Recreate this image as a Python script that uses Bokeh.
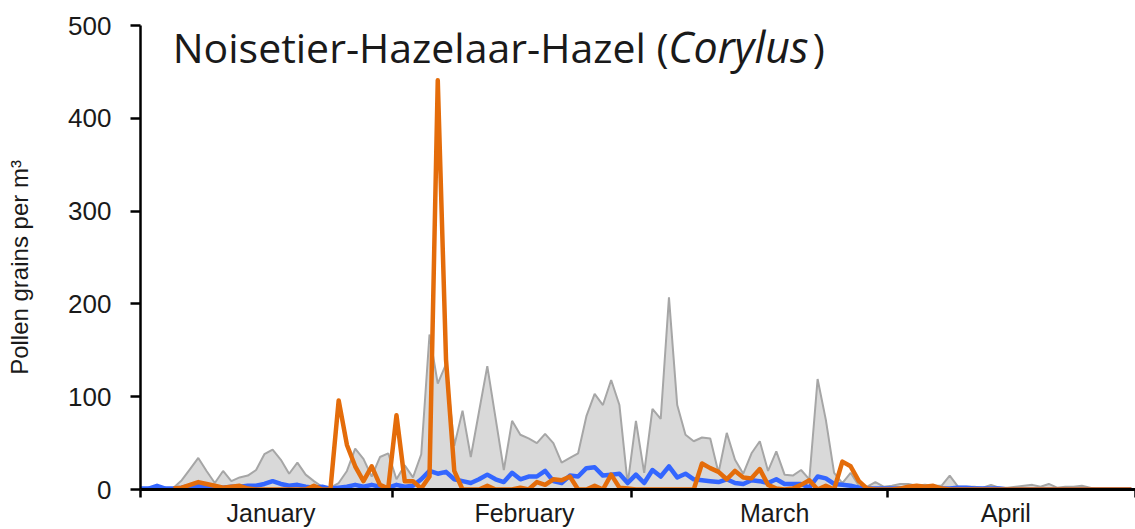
from bokeh.plotting import figure
from bokeh.models import FixedTicker, Label, Range1d
from bokeh.embed import file_html
from bokeh.resources import INLINE

NaN = float("nan")

# Month tick labels and boundaries (day index, 0 = 1 January)
months = ["January", "February", "March", "April"]
month_label_pos = [15.8, 46.5, 76.8, 104.8]
month_bounds = [0, 30.5, 59.5, 90.5, 120.5]
y_ticks = [0, 100, 200, 300, 400, 500]

# Historical maximum (grey area)
hist_max = [
    0, 0, 2, 1, 2, 10, 22, 34, 20, 7,
    20, 9, 13, 15, 21, 38, 43, 32, 17, 29,
    16, 9, 3, 2, 7, 20, 44, 33, 14, 35,
    39, 11, 26, 13, 38, 167, 114, 135, 47, 85,
    35, 84, 133, 77, 21, 74, 59, 55, 50, 60,
    50, 29, 34, 39, 79, 103, 91, 118, 91, 6,
    74, 18, 87, 76, 207, 91, 59, 52, 56, 55,
    18, 61, 32, 17, 39, 52, 20, 41, 16, 15,
    21, 11, 119, 75, 18, 7, 18, 4, 3, 8,
    3, 4, 6, 6, 4, 5, 4, 4, 15, 3,
    3, 3, 2, 5, 2, 2, 3, 4, 5, 3,
    6, 2, 3, 3, 4, 2, 0, 0, 0, 0, 0,
]

# Historical mean (blue line)
hist_mean = [
    1, 1, 4, 1, 1, 2, 4, 4, 3, 2,
    2, 3, 3, 4, 4, 6, 9, 6, 4, 5,
    3, 2, 3, 1, 2, 3, 5, 3, 5, 3,
    2, 5, 3, 4, 11, 20, 17, 19, 11, 9,
    7, 11, 16, 11, 8, 18, 11, 14, 14, 20,
    9, 7, 15, 14, 23, 24, 15, 16, 17, 7,
    16, 7, 21, 14, 25, 13, 17, 11, 10, 9,
    8, 11, 7, 6, 10, 9, 7, 11, 6, 6,
    6, 2, 14, 12, 6, 5, 4, 2, 1, 1,
    1, 1, 1, 2, 2, 2, 2, 1, 1, 2,
    2, 1, 1, 1, 1, 0, 0, 0, 0, 0,
    0, 0, 0, 0, 0, 0, 0, 0, 0, 0, 0,
]

# Current season (orange line)
current = [
    NaN, NaN, NaN, NaN, 1, 2, 5, 8, 6, 4,
    2, 3, 4, 1, 0, 0, 0, 0, 0, 0,
    0, 4, 0, 0, 96, 48, 25, 9, 25, 5,
    1, 80, 9, 9, 1, 14, 441, 140, 20, 0,
    0, 0, 4, 0, 0, 0, 2, 0, 8, 5,
    11, 10, 14, 0, 0, 4, 0, 16, 2, 1,
    0, 0, 0, 0, 0, 0, 0, 0, 28, 23,
    19, 11, 20, 13, 12, 22, 5, 1, 0, 1,
    5, 10, 0, 4, 0, 30, 25, 9, 1, 0,
    0, 0, 1, 3, 4, 3, 4, 1, 0, 0,
    0, 0, 0, 0, 0, 0, 0, 0, 0, 0,
    0, 0, 0, 0, 0, 0, 0, 0, 0, 0, 0,
]

days = list(range(len(hist_max)))

p = figure(width=1135, height=529, x_range=Range1d(0, 120.5), y_range=Range1d(0, 500),
           output_backend="svg", toolbar_location=None,
           min_border_left=140, min_border_right=0, min_border_top=25, min_border_bottom=39)
p.xgrid.visible = False
p.ygrid.visible = False
p.outline_line_color = None
p.background_fill_color = "white"
p.border_fill_color = "white"

p.varea(x=days, y1=0, y2=hist_max, fill_color="#D9D9D9")
p.line(days, hist_max, line_color="#A6A6A6", line_width=2)
p.line(days, hist_mean, line_color="#3366FF", line_width=4.5, line_join="round")
p.line(days, current, line_color="#E46C0A", line_width=4.5, line_join="round")

# Y axis
ya = p.yaxis[0]
ya.ticker = FixedTicker(ticks=y_ticks)
ya.axis_line_width = 2.5
ya.axis_line_color = "black"
ya.major_tick_line_width = 2.5
ya.major_tick_line_color = "black"
ya.major_tick_out = 10
ya.major_tick_in = 0
ya.minor_tick_out = 0
ya.minor_tick_in = 0
ya.major_label_standoff = 19
ya.major_label_text_font = "Liberation Sans"
ya.major_label_text_font_size = "26px"
ya.major_label_text_color = "#1a1a1a"
ya.axis_label = "Pollen grains per m³\u00a0\u00a0\u00a0"
ya.axis_label_text_font = "Liberation Sans"
ya.axis_label_text_font_size = "24px"
ya.axis_label_text_font_style = "normal"
ya.axis_label_text_color = "#1a1a1a"
ya.axis_label_standoff = 32

# X axis
xa = p.xaxis[0]
xa.ticker = FixedTicker(ticks=month_label_pos, minor_ticks=month_bounds)
xa.major_label_overrides = {pos: name for pos, name in zip(month_label_pos, months)}
xa.axis_line_width = 3
xa.axis_line_color = "black"
xa.major_tick_out = 0
xa.major_tick_in = 0
xa.minor_tick_out = 8
xa.minor_tick_in = 0
xa.minor_tick_line_width = 2.5
xa.minor_tick_line_color = "black"
xa.major_label_standoff = 1
xa.major_label_text_font = "Liberation Sans"
xa.major_label_text_font_size = "25px"
xa.major_label_text_color = "#1a1a1a"

# Title inside the plot
title_font = "Open Sans"
p.add_layout(Label(x=3.9, y=477, text="Noisetier-Hazelaar-Hazel (", text_font=title_font,
                   text_font_size="41px", text_baseline="middle", text_color="#1a1a1a"))
p.add_layout(Label(x=63.9, y=477, text="Corylus", text_font=title_font, text_font_style="italic",
                   text_font_size="43px", text_baseline="middle", text_color="#1a1a1a"))
p.add_layout(Label(x=81.4, y=477, text=")", text_font=title_font,
                   text_font_size="41px", text_baseline="middle", text_color="#1a1a1a"))

open("out.html", "w").write(file_html(p, INLINE))
